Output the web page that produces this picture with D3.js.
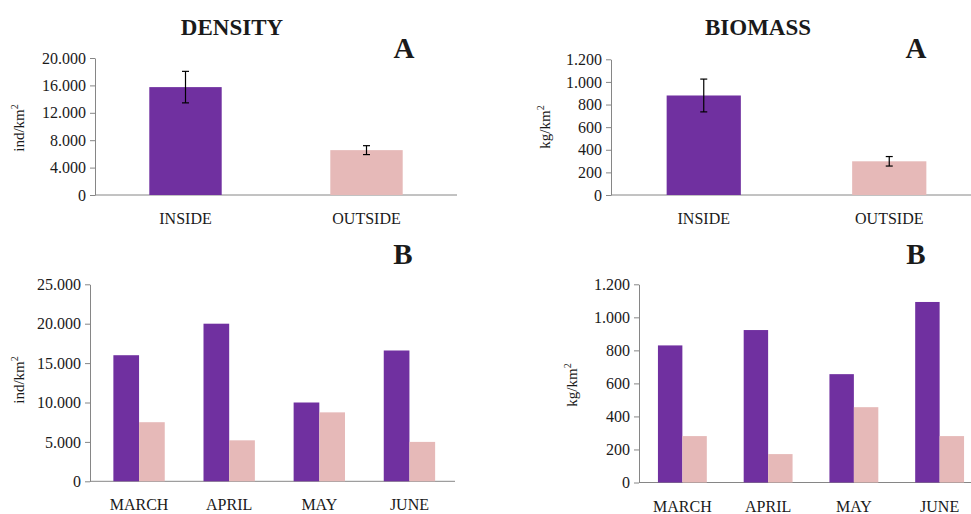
<!DOCTYPE html>
<html>
<head>
<meta charset="utf-8">
<script src="https://cdn.jsdelivr.net/npm/d3@7"></script>
<style>
  body { margin: 0; background: #fff; }
  text { font-family: "Liberation Serif", "Times New Roman", serif; fill: #1a1a1a; }
</style>
</head>
<body>
<div id="chart"></div>
<script>
// data
var sites = ["INSIDE", "OUTSIDE"];
var densitySite = [15750, 6550];
var densitySiteErr = [2300, 650];
var biomassSite = [880, 298];
var biomassSiteErr = [145, 42];

var months = ["MARCH", "APRIL", "MAY", "JUNE"];
var densityIn = [16000, 20000, 10000, 16600];
var densityOut = [7500, 5200, 8750, 5000];
var biomassIn = [830, 923, 656, 1093];
var biomassOut = [281, 172, 456, 281];

var densityTicks = [0, 4000, 8000, 12000, 16000, 20000];
var densityTicksB = [0, 5000, 10000, 15000, 20000, 25000];
var biomassTicks = [0, 200, 400, 600, 800, 1000, 1200];

var purple = "#7030a0";
var pink = "#e6b9b8";
var axisGrey = "#868686";
var serif = "'Liberation Serif', 'Times New Roman', serif";

var w = 971;
var h = 514;

var loc = d3.formatLocale({decimal: ",", thousands: ".", grouping: [3], currency: ["", ""]});
var fmt = loc.format(",d");

var svg = d3.select("#chart").append("svg")
  .attr("width", w)
  .attr("height", h);

// draws the y axis, the baseline and the y label for one panel
function frame(p) {
  var yAxis = d3.axisLeft(p.y)
    .tickValues(p.ticks)
    .tickFormat(fmt)
    .tickSizeInner(5)
    .tickSizeOuter(0)
    .tickPadding(4);

  var g = svg.append("g")
    .attr("transform", "translate(" + p.x0 + ",0)")
    .call(yAxis)
    .attr("font-family", serif)
    .attr("font-size", 16);
  g.select(".domain").attr("stroke", axisGrey);
  g.selectAll(".tick line").attr("stroke", axisGrey);
  g.selectAll(".tick text")
    .style("font-family", serif)
    .style("font-size", "16px")
    .attr("fill", "#1a1a1a");

  svg.append("line")
    .attr("x1", p.x0).attr("x2", p.x1)
    .attr("y1", p.y(0)).attr("y2", p.y(0))
    .attr("stroke", axisGrey);

  var lab = svg.append("text")
    .attr("transform", "translate(" + p.lx + "," + p.ly + ") rotate(-90)")
    .attr("text-anchor", "middle")
    .style("font-size", "15px");
  lab.append("tspan").text(p.unit + "/km");
  lab.append("tspan").attr("dy", -6).style("font-size", "10px").text("2");
}

function letter(txt, x, y) {
  svg.append("text")
    .attr("x", x).attr("y", y)
    .attr("text-anchor", "middle")
    .style("font-size", "29px")
    .style("font-weight", "bold")
    .text(txt);
}

function title(txt, x, y) {
  svg.append("text")
    .attr("x", x).attr("y", y)
    .attr("text-anchor", "middle")
    .style("font-size", "23px")
    .style("font-weight", "bold")
    .text(txt);
}

// panel A: inside vs outside with error bars
function panelA(p, vals, errs) {
  var x = d3.scaleBand().domain(sites).range([p.bx0, p.bx1]).paddingInner(0.6).paddingOuter(0.3);
  frame(p);

  var data = sites.map(function(s, i) { return {k: s, v: vals[i], e: errs[i], c: i == 0 ? purple : pink}; });

  svg.selectAll(null)
    .data(data)
    .enter()
    .append("rect")
    .attr("x", function(d) { return x(d.k); })
    .attr("y", function(d) { return p.y(d.v); })
    .attr("width", x.bandwidth())
    .attr("height", function(d) { return p.y(0) - p.y(d.v); })
    .style("fill", function(d) { return d.c; });

  var eb = svg.selectAll(null)
    .data(data)
    .enter()
    .append("g")
    .attr("stroke", "#000")
    .attr("stroke-width", 1.2);
  eb.append("line")
    .attr("x1", function(d) { return x(d.k) + x.bandwidth() / 2; })
    .attr("x2", function(d) { return x(d.k) + x.bandwidth() / 2; })
    .attr("y1", function(d) { return p.y(d.v + d.e); })
    .attr("y2", function(d) { return p.y(d.v - d.e); });
  [1, -1].forEach(function(sg) {
    eb.append("line")
      .attr("x1", function(d) { return x(d.k) + x.bandwidth() / 2 - 3.5; })
      .attr("x2", function(d) { return x(d.k) + x.bandwidth() / 2 + 3.5; })
      .attr("y1", function(d) { return p.y(d.v + sg * d.e); })
      .attr("y2", function(d) { return p.y(d.v + sg * d.e); });
  });

  svg.selectAll(null)
    .data(sites)
    .enter()
    .append("text")
    .attr("x", function(d) { return x(d) + x.bandwidth() / 2; })
    .attr("y", p.y(0) + 29)
    .attr("text-anchor", "middle")
    .style("font-size", "16px")
    .text(function(d) { return d; });
}

// panel B: monthly grouped bars
function panelB(p, inside, outside) {
  var x = d3.scaleBand().domain(months).range([p.bx0, p.bx1]).paddingInner(0.43).paddingOuter(0.215);
  var sub = d3.scaleBand().domain([0, 1]).range([0, x.bandwidth()]);
  frame(p);

  var data = [];
  months.forEach(function(m, i) {
    data.push({m: m, s: 0, v: inside[i], c: purple});
    data.push({m: m, s: 1, v: outside[i], c: pink});
  });

  svg.selectAll(null)
    .data(data)
    .enter()
    .append("rect")
    .attr("x", function(d) { return x(d.m) + sub(d.s); })
    .attr("y", function(d) { return p.y(d.v); })
    .attr("width", sub.bandwidth())
    .attr("height", function(d) { return p.y(0) - p.y(d.v); })
    .style("fill", function(d) { return d.c; });

  svg.selectAll(null)
    .data(months)
    .enter()
    .append("text")
    .attr("x", function(d) { return x(d) + x.bandwidth() / 2; })
    .attr("y", p.y(0) + 29)
    .attr("text-anchor", "middle")
    .style("font-size", "16px")
    .text(function(d) { return d; });
}

// top left - density A
panelA({
  x0: 95, x1: 457, bx0: 95, bx1: 457,
  y: d3.scaleLinear().domain([0, 20000]).range([195, 58]),
  ticks: densityTicks, unit: "ind", lx: 24, ly: 128
}, densitySite, densitySiteErr);

// top right - biomass A
panelA({
  x0: 611, x1: 971, bx0: 611, bx1: 982,
  y: d3.scaleLinear().domain([0, 1200]).range([195, 59.3]),
  ticks: biomassTicks, unit: "kg", lx: 550, ly: 127
}, biomassSite, biomassSiteErr);

// bottom left - density B
panelB({
  x0: 90, x1: 455, bx0: 94, bx1: 454.5,
  y: d3.scaleLinear().domain([0, 25000]).range([481.3, 284.3]),
  ticks: densityTicksB, unit: "ind", lx: 24, ly: 380
}, densityIn, densityOut);

// bottom right - biomass B
panelB({
  x0: 639, x1: 971, bx0: 639.5, bx1: 982.5,
  y: d3.scaleLinear().domain([0, 1200]).range([482.5, 284.3]),
  ticks: biomassTicks, unit: "kg", lx: 577, ly: 385
}, biomassIn, biomassOut);

title("DENSITY", 232, 35);
title("BIOMASS", 758, 35);
letter("A", 404, 58);
letter("A", 916, 58);
letter("B", 403, 264);
letter("B", 916, 264);
</script>
</body>
</html>
